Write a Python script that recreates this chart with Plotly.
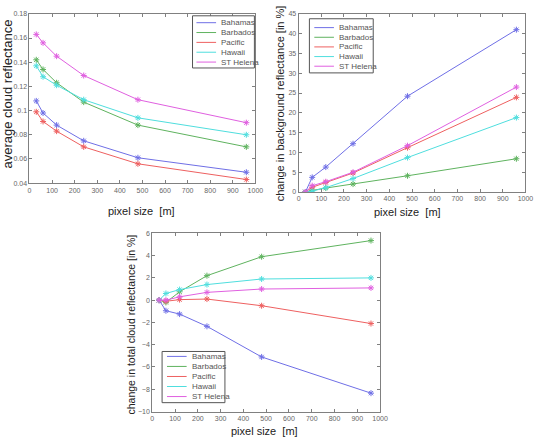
import plotly.graph_objects as go

pixel_size = [30, 60, 120, 240, 480, 960]
names = ["Bahamas", "Barbados", "Pacific", "Hawaii", "ST Helena"]
colors = ["#6f6fe6", "#5fb35f", "#ee6060", "#4fdede", "#e060e0"]

avg_refl = {
    "Bahamas":   [0.108, 0.098, 0.088, 0.075, 0.061, 0.049],
    "Barbados":  [0.142, 0.134, 0.123, 0.107, 0.088, 0.070],
    "Pacific":   [0.099, 0.091, 0.083, 0.070, 0.056, 0.043],
    "Hawaii":    [0.137, 0.128, 0.121, 0.109, 0.094, 0.080],
    "ST Helena": [0.163, 0.156, 0.145, 0.129, 0.109, 0.090],
}
bg_change = {
    "Bahamas":   [0, 3.7, 6.3, 12.2, 24.2, 41.0],
    "Barbados":  [0, 0.4, 1.0, 2.0, 4.1, 8.4],
    "Pacific":   [0, 1.2, 2.4, 4.8, 11.2, 23.9],
    "Hawaii":    [0, 0.2, 1.1, 3.4, 8.7, 18.8],
    "ST Helena": [0, 1.6, 2.6, 5.0, 11.7, 26.5],
}
total_change = {
    "Bahamas":   [0, -0.95, -1.25, -2.35, -5.1, -8.35],
    "Barbados":  [0, -0.2, 0.75, 2.2, 3.9, 5.35],
    "Pacific":   [0, -0.1, 0.05, 0.1, -0.5, -2.1],
    "Hawaii":    [0, 0.6, 0.95, 1.4, 1.9, 2.0],
    "ST Helena": [0, 0.0, 0.3, 0.7, 1.0, 1.1],
}

W, H = 558, 447
def px(x): return x / W
def py(y): return 1 - y / H

fig = go.Figure()
panels = [
    (avg_refl, "x", "y"),
    (bg_change, "x2", "y2"),
    (total_change, "x3", "y3"),
]
for data, xa, ya in panels:
    for n, c in zip(names, colors):
        fig.add_trace(go.Scatter(
            x=pixel_size, y=data[n], name=n, mode="lines+markers",
            line=dict(color=c, width=1),
            marker=dict(symbol="asterisk-open", size=5, color=c, line=dict(color=c, width=1)),
            xaxis=xa, yaxis=ya, showlegend=False,
        ))

tickfont = dict(family="Liberation Sans, Arial", size=7, color="#666666")
axcommon = dict(showgrid=False, zeroline=False, showline=True, linecolor="#808080",
                linewidth=1, mirror="ticks", ticks="inside", ticklen=3,
                tickcolor="#808080", tickfont=tickfont)

fig.update_layout(
    width=W, height=H, margin=dict(l=0, r=0, t=0, b=0),
    plot_bgcolor="white", paper_bgcolor="white", showlegend=False,
    xaxis=dict(domain=[px(28), px(258)], range=[0, 1000], dtick=100, anchor="y", **axcommon),
    yaxis=dict(domain=[py(182), py(10)], range=[0.04, 0.18], dtick=0.02, anchor="x", **axcommon),
    xaxis2=dict(domain=[px(302), px(533)], range=[0, 1000], dtick=100, anchor="y2", **axcommon),
    yaxis2=dict(domain=[py(191), py(10)], range=[0, 45], dtick=5, anchor="x2", **axcommon),
    xaxis3=dict(domain=[px(153), px(385)], range=[0, 1000], dtick=100, anchor="y3", **axcommon),
    yaxis3=dict(domain=[py(414), py(233)], range=[-10, 6], dtick=2, anchor="x3", **axcommon),
)

# manual legends (box, line sample, label) in paper pixel coordinates
legfont = dict(family="Liberation Sans, Arial", size=8, color="#555555")
legend_specs = [
    # box x0, y0, x1, y1, first item y, step, line x0, line x1, text x
    (194, 12, 257, 65, 19, 10, 198, 218, 221),
    (313, 15, 378, 70, 24, 9.8, 318, 338, 341),
    (163, 353, 227, 405, 358, 10.2, 168, 188, 191),
]
shapes = []
for bx0, by0, bx1, by1, iy0, step, lx0, lx1, tx in legend_specs:
    shapes.append(dict(type="rect", xref="paper", yref="paper",
                       x0=px(bx0), x1=px(bx1), y0=py(by1), y1=py(by0),
                       line=dict(color="#555555", width=1), fillcolor="white", layer="above"))
    for i, (n, c) in enumerate(zip(names, colors)):
        yy = iy0 + i * step
        shapes.append(dict(type="line", xref="paper", yref="paper",
                           x0=px(lx0), x1=px(lx1), y0=py(yy), y1=py(yy),
                           line=dict(color=c, width=1), layer="above"))
        fig.add_annotation(xref="paper", yref="paper", x=px(tx), y=py(yy), text=n,
                           showarrow=False, xanchor="left", yanchor="middle",
                           font=legfont)
fig.update_layout(shapes=shapes)

anns = [
    dict(x=px(142), y=py(210), text="pixel size  [m]", textangle=0, size=11),
    dict(x=px(413), y=py(211), text="pixel size  [m]", textangle=0, size=11),
    dict(x=px(267), y=py(434), text="pixel size  [m]", textangle=0, size=11),
    dict(x=px(6), y=py(91), text="average cloud reflectance", textangle=-90, size=13),
    dict(x=px(283), y=py(101), text="change in background reflectance [in %]", textangle=-90, size=11),
    dict(x=px(131), y=py(326), text="change in total cloud reflectance [in %]", textangle=-90, size=10.5),
]
for a in anns:
    sz = a.pop("size")
    fig.add_annotation(xref="paper", yref="paper", showarrow=False,
                       font=dict(family="Liberation Sans, Arial", size=sz, color="#222222"),
                       xanchor="center", yanchor="middle", **a)

fig.write_html("out.html")
